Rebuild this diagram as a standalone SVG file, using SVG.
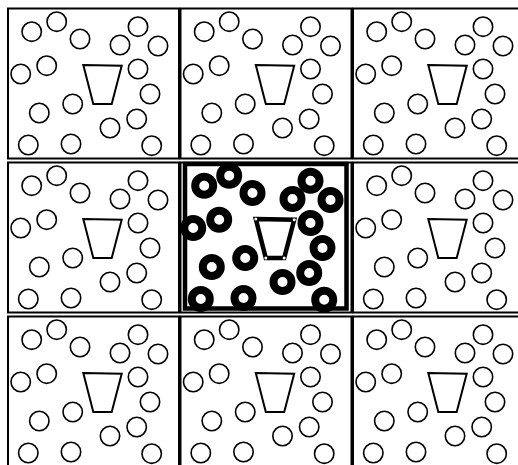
<svg xmlns="http://www.w3.org/2000/svg" width="518" height="465" viewBox="0 0 518 465">
<style>
.frame{fill:none;stroke:#000;stroke-width:2}
.c{fill:none;stroke:#000;stroke-width:1.6}
.trap{fill:none;stroke:#000;stroke-width:2}
.ring{fill:none;stroke:#000;stroke-width:8}
.thick{fill:none;stroke:#000;stroke-width:4.5}
.trapb{fill:none;stroke:#000;stroke-width:4.5}
.vx{fill:#fff}
</style>
<defs>
<g id="cell">
<rect class="frame" x="8" y="8.5" width="171" height="150"/>
<circle class="c" cx="31.7" cy="31.7" r="9.7"/>
<circle class="c" cx="56.7" cy="21.7" r="9.7"/>
<circle class="c" cx="80" cy="39" r="9.7"/>
<circle class="c" cx="138" cy="26.7" r="9.7"/>
<circle class="c" cx="120" cy="45" r="9.7"/>
<circle class="c" cx="158" cy="46" r="9.7"/>
<circle class="c" cx="20.7" cy="74" r="9.7"/>
<circle class="c" cx="46.7" cy="65.7" r="9.7"/>
<circle class="c" cx="138" cy="69" r="9.7"/>
<circle class="c" cx="150" cy="94" r="9.7"/>
<circle class="c" cx="72.7" cy="104" r="9.7"/>
<circle class="c" cx="39.3" cy="113" r="9.7"/>
<circle class="c" cx="136.7" cy="119" r="9.7"/>
<circle class="c" cx="110" cy="128" r="9.7"/>
<circle class="c" cx="28.3" cy="145" r="9.7"/>
<circle class="c" cx="71" cy="144" r="9.7"/>
<circle class="c" cx="151.7" cy="145.7" r="9.7"/>
<polygon class="trap" points="83.3,65 121.7,65.7 111.7,104 93.3,104"/>
</g>
</defs>
<rect width="518" height="465" fill="#fff"/>
<g id="cell-1-1"><use href="#cell"/></g>
<g id="cell-1-2" transform="translate(172.5,0)"><use href="#cell"/></g>
<g id="cell-1-3" transform="translate(345,0)"><use href="#cell"/></g>
<g id="cell-2-1" transform="translate(0,154)"><use href="#cell"/></g>
<g id="cell-2-3" transform="translate(345,154)"><use href="#cell"/></g>
<g id="cell-3-1" transform="translate(0,308)"><use href="#cell"/></g>
<g id="cell-3-2" transform="translate(172.5,308)"><use href="#cell"/></g>
<g id="cell-3-3" transform="translate(345,308)"><use href="#cell"/></g>
<g id="cell-2-2" transform="translate(172.5,154)">
<rect class="frame" x="8" y="8.5" width="171" height="150"/>
<rect class="thick" x="12.5" y="10" width="161.5" height="144.5"/>
<circle class="ring" cx="31.7" cy="31.7" r="9"/>
<circle class="ring" cx="56.7" cy="21.7" r="9"/>
<circle class="ring" cx="80" cy="39" r="9"/>
<circle class="ring" cx="138" cy="26.7" r="9"/>
<circle class="ring" cx="120" cy="45" r="9"/>
<circle class="ring" cx="158" cy="46" r="9"/>
<circle class="ring" cx="20.7" cy="74" r="9"/>
<circle class="ring" cx="46.7" cy="65.7" r="9"/>
<circle class="ring" cx="138" cy="69" r="9"/>
<circle class="ring" cx="150" cy="94" r="9"/>
<circle class="ring" cx="72.7" cy="104" r="9"/>
<circle class="ring" cx="39.3" cy="113" r="9"/>
<circle class="ring" cx="136.7" cy="119" r="9"/>
<circle class="ring" cx="110" cy="128" r="9"/>
<circle class="ring" cx="28.3" cy="145" r="9"/>
<circle class="ring" cx="71" cy="144" r="9"/>
<circle class="ring" cx="151.7" cy="145.7" r="9"/>
<polygon class="trapb" points="83.3,65 121.7,65.7 111.7,104 93.3,104"/>
<circle class="vx" cx="83.3" cy="65" r="1.5"/>
<circle class="vx" cx="121.7" cy="65.7" r="1.5"/>
<circle class="vx" cx="111.7" cy="104" r="1.5"/>
<circle class="vx" cx="93.3" cy="104" r="1.5"/>
</g>
</svg>
